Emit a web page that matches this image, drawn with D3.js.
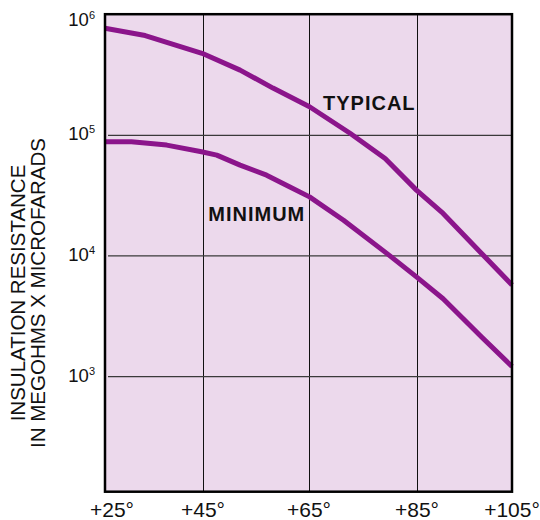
<!DOCTYPE html>
<html>
<head>
<meta charset="utf-8">
<script src="https://cdn.jsdelivr.net/npm/d3@7"></script>
<style>
  body { margin: 0; background: #fff; }
  svg text { font-family: "Liberation Sans", Arial, Helvetica, sans-serif; fill: #111; }
</style>
</head>
<body>
<div id="chart"></div>
<script>
// temperature ticks (deg C) and their labels
const tempTicks = [25, 45, 65, 85, 105];
const tempLabels = ["+25°", "+45°", "+65°", "+85°", "+105°"];

// log decades on the y axis
const decadeTicks = [1e3, 1e4, 1e5, 1e6];
const decadeExponents = ["3", "4", "5", "6"];

// typical curve
const typicalTemps = [25, 33.2, 44.8, 52.0, 58.2, 65.1, 72.6, 79.1, 84.9, 90.5, 98.6, 105];
const typicalValues = [7.64e5, 6.65e5, 4.74e5, 3.44e5, 2.44e5, 1.71e5, 1.03e5, 6.37e4, 3.48e4, 2.23e4, 1.04e4, 5.7e3];

// minimum curve
const minimumTemps = [25, 30.4, 37.6, 44.7, 47.6, 52.0, 57.0, 61.4, 65.1, 71.4, 79.4, 84.9, 90.5, 98.6, 105];
const minimumValues = [8.75e4, 8.75e4, 8.22e4, 7.23e4, 6.79e4, 5.61e4, 4.63e4, 3.70e4, 3.06e4, 1.96e4, 1.04e4, 6.64e3, 4.38e3, 2.11e3, 1.2e3];

const curveNames = ["TYPICAL", "MINIMUM"];
const titleLines = ["INSULATION RESISTANCE", "IN MEGOHMS X MICROFARADS"];

const width = 540, height = 520;
const plot = {left: 105, right: 512, top: 14.2, bottom: 491.7};
// the printed grid is not evenly spaced, so map each tick to where it sits
const gridX = [105, 203, 309, 417, 512];

const svg = d3.select("#chart").append("svg")
    .attr("width", width)
    .attr("height", height);

const x = d3.scaleLinear().domain(tempTicks).range(gridX);
const y = d3.scaleLog().domain([110, 1e6]).range([plot.bottom, plot.top]);

// background panel
svg.append("rect")
    .attr("x", plot.left).attr("y", plot.top)
    .attr("width", plot.right - plot.left)
    .attr("height", plot.bottom - plot.top)
    .attr("fill", "#ecd9ec");

// vertical grid
svg.append("g")
    .attr("transform", `translate(0,${plot.bottom})`)
    .call(d3.axisBottom(x).tickValues(tempTicks.slice(1, -1)).tickSize(-(plot.bottom - plot.top)).tickFormat(""))
    .call(g => g.select(".domain").remove())
    .call(g => g.selectAll(".tick line").attr("stroke", "#111").attr("stroke-width", 1));

// horizontal grid
svg.append("g")
    .attr("transform", `translate(${plot.right},0)`)
    .call(d3.axisLeft(y).tickValues(decadeTicks.slice(0, -1)).tickSize(plot.right - plot.left - 3).tickFormat(""))
    .call(g => g.select(".domain").remove())
    .call(g => g.selectAll(".tick line").attr("stroke", "#3a3a3a").attr("stroke-width", 1.3));

// curves
const line = d3.line()
    .x(d => x(d[0]))
    .y(d => y(d[1]));

const series = [
    d3.zip(typicalTemps, typicalValues),
    d3.zip(minimumTemps, minimumValues)
];

svg.append("g").selectAll("path")
    .data(series)
    .join("path")
    .attr("d", line)
    .attr("fill", "none")
    .attr("stroke", "#8b158b")
    .attr("stroke-width", 5)
    .attr("stroke-linejoin", "round");

// frame
svg.append("rect")
    .attr("x", plot.left).attr("y", plot.top)
    .attr("width", plot.right - plot.left)
    .attr("height", plot.bottom - plot.top)
    .attr("fill", "none")
    .attr("stroke", "#000")
    .attr("stroke-width", 2.5);

// curve names
const namePos = [[67.6, 1.6e5], [46.0, 1.93e4]];
svg.append("g").selectAll("text")
    .data(curveNames)
    .join("text")
    .attr("x", (d, i) => x(namePos[i][0]))
    .attr("y", (d, i) => y(namePos[i][1]))
    .attr("font-size", 20)
    .attr("font-weight", "bold")
    .attr("letter-spacing", 1)
    .text(d => d);

// x labels
svg.append("g").selectAll("text")
    .data(tempTicks)
    .join("text")
    .attr("x", d => x(d))
    .attr("dx", (d, i) => i === 0 ? 7 : 0)
    .attr("y", 516.5)
    .attr("text-anchor", "middle")
    .attr("font-size", 21)
    .text((d, i) => tempLabels[i]);

// y labels with superscript exponent
const yLabels = svg.append("g").selectAll("text")
    .data(decadeTicks)
    .join("text")
    .attr("x", 95)
    .attr("y", d => Math.max(y(d) + 5.5, 26))
    .attr("text-anchor", "end");
yLabels.append("tspan").attr("font-size", 18.5).text("10");
yLabels.append("tspan").attr("font-size", 11).attr("dy", -7).text((d, i) => decadeExponents[i]);

// axis title
svg.append("g")
    .attr("transform", "translate(0,293) rotate(-90)")
    .selectAll("text")
    .data(titleLines)
    .join("text")
    .attr("x", 0)
    .attr("y", (d, i) => 25 + i * 20)
    .attr("text-anchor", "middle")
    .attr("font-size", 20.5)
    .text(d => d);
</script>
</body>
</html>
